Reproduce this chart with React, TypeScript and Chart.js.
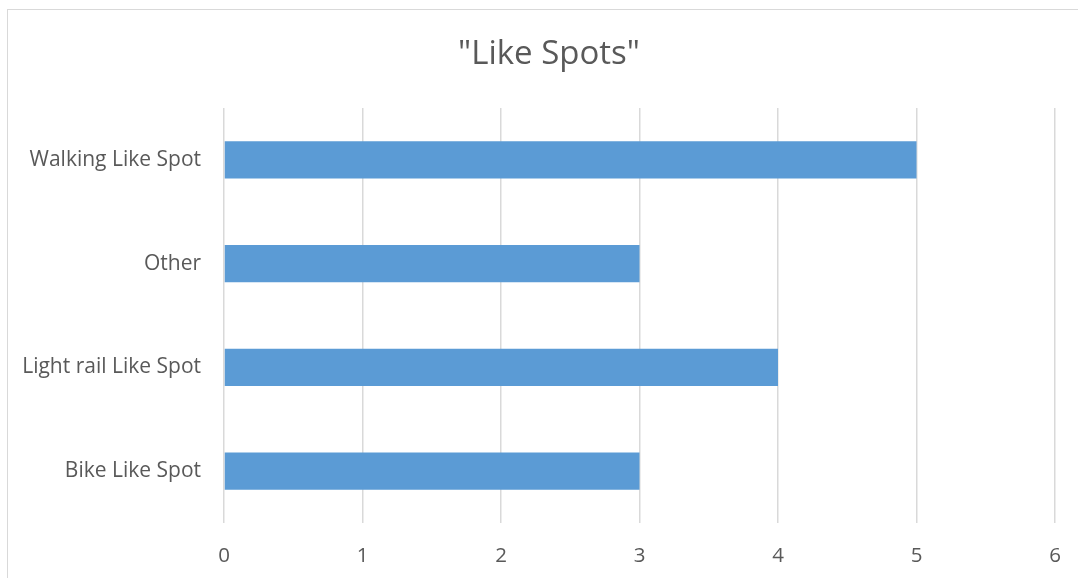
import React, { useEffect, useRef } from "react";
import { Chart, registerables } from "chart.js";

Chart.register(...registerables);

const titleText = '"Like Spots"';
const categories = ["Walking Like Spot", "Other", "Light rail Like Spot", "Bike Like Spot"];
const values = [5, 3, 4, 3];
const xTicks = [0, 1, 2, 3, 4, 5, 6];

const FONT = "'Open Sans', sans-serif";
const TEXT = "#595959";
const GRID = "#d9d9d9";
const BAR = "#5b9bd5";

const CW = 1082;
const CH = 570;

export default function App() {
  const ref = useRef<HTMLCanvasElement>(null);
  useEffect(() => {
    if (!ref.current) return;
    const chart = new Chart(ref.current, {
      type: "bar",
      data: {
        labels: categories,
        datasets: [
          {
            data: values,
            backgroundColor: BAR,
            borderWidth: 0,
            categoryPercentage: 1,
            barPercentage: 0.36,
          },
        ],
      },
      options: {
        indexAxis: "y",
        responsive: false,
        animation: false,
        layout: { padding: 0 },
        plugins: {
          legend: { display: false },
          tooltip: { enabled: false },
          title: {
            display: true,
            text: titleText,
            color: TEXT,
            font: { family: FONT, size: 33, weight: "normal", lineHeight: 1.2 },
            padding: { top: 25, bottom: 33.4 },
          },
        },
        scales: {
          x: {
            min: xTicks[0],
            max: xTicks[xTicks.length - 1],
            afterBuildTicks: (scale: any) => {
              scale.ticks = xTicks.map((v) => ({ value: v }));
            },
            afterFit: (scale: any) => {
              scale.height = 57;
            },
            grid: { color: GRID, lineWidth: 1.5, drawTicks: false },
            border: { display: false },
            ticks: {
              color: TEXT,
              font: { family: FONT, size: 20.5 },
              padding: 21,
            },
          },
          y: {
            afterFit: (scale: any) => {
              scale.width = 216;
            },
            grid: { display: false, drawTicks: false },
            border: { display: false },
            ticks: {
              color: TEXT,
              font: { family: FONT, size: 21 },
              padding: 23,
            },
          },
          y2: {
            type: "category",
            position: "right",
            labels: [],
            afterFit: (scale: any) => {
              scale.width = 35;
            },
            grid: { display: false, drawTicks: false },
            border: { display: false },
            ticks: { display: false },
          },
        },
      },
    });
    return () => chart.destroy();
  }, []);

  return (
    <div style={{ position: "fixed", left: 0, top: 0, width: 1078, height: 578, overflow: "hidden", background: "#fff" }}>
      <div
        style={{
          position: "absolute",
          left: 7,
          top: 9,
          width: CW,
          height: CH,
          border: `1px solid ${GRID}`,
          background: "#fff",
        }}
      >
        <canvas ref={ref} width={CW} height={CH} style={{ display: "block", width: CW, height: CH }} />
      </div>
    </div>
  );
}
